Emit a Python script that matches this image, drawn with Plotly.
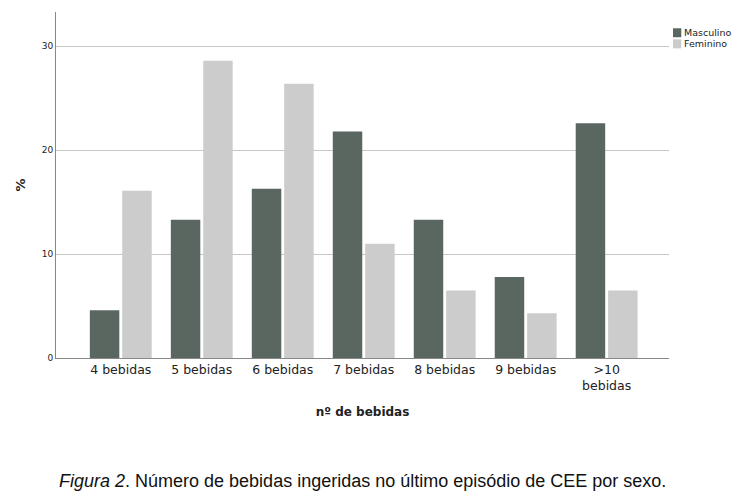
import plotly.graph_objects as go

categories = ["4 bebidas", "5 bebidas", "6 bebidas", "7 bebidas", "8 bebidas", "9 bebidas", ">10<br>bebidas"]
masculino = [4.6, 13.3, 16.3, 21.8, 13.3, 7.8, 22.6]
feminino = [16.1, 28.6, 26.4, 11.0, 6.5, 4.3, 6.5]
y_ticks = [0, 10, 20, 30]
series_names = ["Masculino", "Feminino"]
series_colors = ["#5a6660", "#cccccc"]

fig = go.Figure()
fig.add_trace(go.Bar(x=categories, y=masculino, name=series_names[0],
                     marker=dict(color=series_colors[0], line=dict(width=0))))
fig.add_trace(go.Bar(x=categories, y=feminino, name=series_names[1],
                     marker=dict(color=series_colors[1], line=dict(width=0))))

# page body adds an ~8px offset, so the figure is shrunk accordingly
fig.update_layout(
    width=737, height=486,
    margin=dict(l=48, r=76, t=4, b=136, autoexpand=False),
    paper_bgcolor="white", plot_bgcolor="white",
    barmode="group", bargap=0.2, bargroupgap=0.09,
    font=dict(family="DejaVu Sans", color="#222222"),
    showlegend=False,
    xaxis=dict(range=[-0.8, 6.77], showline=True, linecolor="#888888", linewidth=1,
               ticks="", tickfont=dict(size=12.5, color="#222222"), automargin=False,
               title=dict(text="<b>nº de bebidas</b>", font=dict(size=12), standoff=15)),
    yaxis=dict(range=[0, 33.3], tickvals=y_ticks, showline=True, linecolor="#888888",
               linewidth=1, showgrid=True, gridcolor="#c8c8c8", gridwidth=1,
               zeroline=False, ticks="", tickfont=dict(size=9, color="#222222"),
               automargin=False,
               title=dict(text="<b>%</b>", font=dict(size=13), standoff=13)),
)

# legend drawn in the right margin
for i, (name, col) in enumerate(zip(series_names, series_colors)):
    yc = 0.94 - i * 0.032
    fig.add_shape(type="rect", xref="paper", yref="paper",
                  x0=1.0065, x1=1.02, y0=yc - 0.013, y1=yc + 0.013,
                  fillcolor=col, line=dict(width=0))
    fig.add_annotation(text=name, xref="paper", yref="paper", x=1.022, y=yc,
                       xanchor="left", yanchor="middle", showarrow=False,
                       font=dict(size=9.5, color="#222222"))

fig.add_annotation(
    text="<i>Figura 2</i>. Número de bebidas ingeridas no último episódio de CEE por sexo.",
    xref="paper", yref="paper", x=0.5, y=-0.355, xanchor="center", yanchor="middle",
    showarrow=False, font=dict(family="Liberation Sans", size=18, color="#111111"),
)

fig.write_html("out.html")
